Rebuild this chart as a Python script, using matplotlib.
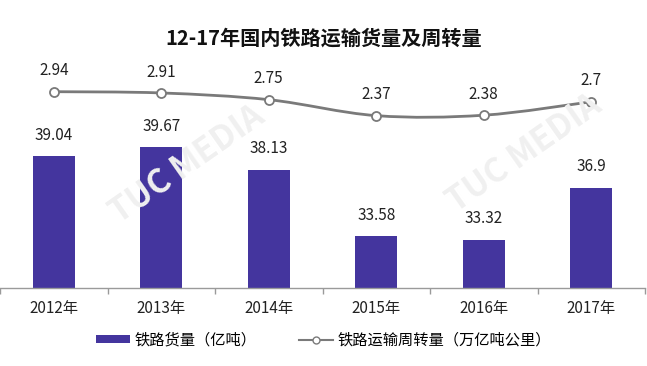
import matplotlib
matplotlib.use("Agg")
import matplotlib.pyplot as plt
from matplotlib.path import Path
from matplotlib.patches import PathPatch, Patch
from matplotlib.lines import Line2D
import numpy as np

plt.rcParams['font.family'] = ['Noto Sans CJK SC', 'DejaVu Sans']

# data
years = ['2012年', '2013年', '2014年', '2015年', '2016年', '2017年']
freight = [39.04, 39.67, 38.13, 33.58, 33.32, 36.9]        # 亿吨
turnover = [2.94, 2.91, 2.75, 2.37, 2.38, 2.7]             # 万亿吨公里
title = '12-17年国内铁路运输货量及周转量'
bar_label = '铁路货量（亿吨）'
line_label = '铁路运输周转量（万亿吨公里）'

bar_color = '#44359E'
line_color = '#7a7a7a'

W, H = 647, 366
fig = plt.figure(figsize=(W / 100, H / 100), dpi=100)

# axes placed in pixel terms: bottom at y=288, top at y=60
ax = fig.add_axes([0, 1 - 288 / H, 645 / W, (288 - 60) / H])
x = np.arange(len(years))

ax.bar(x, freight, width=0.39, color=bar_color, zorder=2)
ax.set_xlim(-0.5, len(years) - 0.5)
ax.set_ylim(30, 30 + 228 / 14.55)

for xi, v in zip(x, freight):
    ax.annotate(f'{v:g}', (xi, v), xytext=(0, 15), textcoords='offset points',
                ha='center', va='center', fontsize=11, color='#222222')

for s in ['top', 'right', 'left']:
    ax.spines[s].set_visible(False)
ax.spines['bottom'].set_color('#9a9a9a')
ax.spines['bottom'].set_linewidth(1.0)
ax.set_yticks([])
ax.set_xticks(x)
ax.set_xticklabels(years, fontsize=11, color='#222222')
ax.tick_params(axis='x', which='major', length=0, pad=9)
ax.set_xticks(np.arange(-0.5, len(years)), minor=True)
ax.tick_params(axis='x', which='minor', length=4, color='#9a9a9a', width=1)

# line on twin axis, smoothed with a Catmull-Rom bezier path
ax2 = ax.twinx()
ax2.set_ylim(-1.734, -1.734 + 228 / 42)
ax2.set_xlim(ax.get_xlim())
ax2.axis('off')

pts = np.column_stack([x, turnover]).astype(float)
ext = np.vstack([pts[0], pts, pts[-1]])
verts = [tuple(pts[0])]
codes = [Path.MOVETO]
for i in range(len(pts) - 1):
    p0, p1, p2, p3 = ext[i], ext[i + 1], ext[i + 2], ext[i + 3]
    c1 = p1 + (p2 - p0) / 6
    c2 = p2 - (p3 - p1) / 6
    verts += [tuple(c1), tuple(c2), tuple(p2)]
    codes += [Path.CURVE4] * 3
ax2.add_patch(PathPatch(Path(verts, codes), facecolor='none',
                        edgecolor=line_color, linewidth=2, zorder=3))
ax2.plot(x, turnover, linestyle='none', marker='o', markersize=6.5,
         markerfacecolor='white', markeredgecolor=line_color,
         markeredgewidth=1.3, zorder=4)
for xi, v in zip(x, turnover):
    ax2.annotate(f'{v:g}', (xi, v), xytext=(0, 15), textcoords='offset points',
                 ha='center', va='center', fontsize=11, color='#222222')

# faint watermark
for wx, wy in [(0.29, 0.55), (0.81, 0.58)]:
    fig.text(wx, wy, 'TUC MEDIA', rotation=35, fontsize=24, fontweight='bold',
             color='#f0f0f0', ha='center', va='center', zorder=0)

fig.text(0.5, 1 - 38 / H, title, ha='center', va='center',
         fontsize=14.5, fontweight='bold', color='#111111')

handles = [Patch(facecolor=bar_color, edgecolor='none'),
           Line2D([0], [0], color=line_color, linewidth=1.5, marker='o',
                  markersize=5, markerfacecolor='white',
                  markeredgecolor=line_color)]
fig.legend(handles, [bar_label, line_label], loc='center',
           bbox_to_anchor=(0.5, 1 - 340 / H), ncol=2, frameon=False,
           fontsize=11, handlelength=2.2, handleheight=0.5,
           columnspacing=2.8, handletextpad=0.3)

fig.savefig('out.png', dpi=100)
